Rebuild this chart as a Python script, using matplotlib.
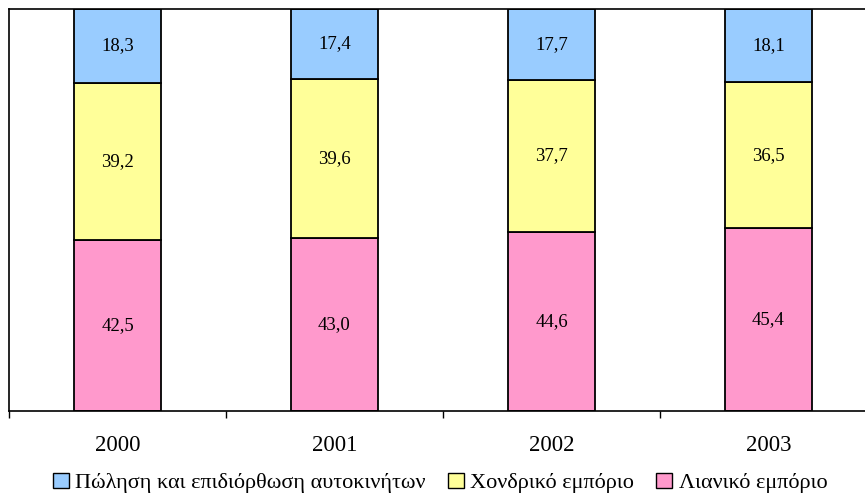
import matplotlib.pyplot as plt
from matplotlib.patches import Patch

# data
years = ["2000", "2001", "2002", "2003"]
retail = [42.5, 43.0, 44.6, 45.4]       # Λιανικό εμπόριο
wholesale = [39.2, 39.6, 37.7, 36.5]    # Χονδρικό εμπόριο
cars = [18.3, 17.4, 17.7, 18.1]         # Πώληση και επιδιόρθωση αυτοκινήτων

labels = ["Πώληση και επιδιόρθωση αυτοκινήτων", "Χονδρικό εμπόριο", "Λιανικό εμπόριο"]
colors = ["#99CCFF", "#FFFF99", "#FF99CC"]

plt.rcParams["font.family"] = ["Liberation Serif", "DejaVu Serif"]

fig = plt.figure(figsize=(8.65, 4.94), dpi=100)
# axes extend past the right edge (chart is cropped in the reference)
ax = fig.add_axes([9 / 865, 1 - 411 / 494, 868 / 865, 402 / 494])

x = list(range(len(years)))
w = 0.40
bottom = [0] * len(years)
for vals, col in zip([retail, wholesale, cars], [colors[2], colors[1], colors[0]]):
    ax.bar(x, vals, w, bottom=bottom, color=col, edgecolor="black", linewidth=1.3)
    for xi, b, v in zip(x, bottom, vals):
        ax.text(xi, b + v / 2, f"{v:.1f}".replace(".", ","), ha="center", va="center", fontsize=13.5)
    bottom = [b + v for b, v in zip(bottom, vals)]

ax.set_xlim(-0.5, 3.5)
ax.set_ylim(0, 100)
ax.set_yticks([])
ax.set_xticks([-0.5, 0.5, 1.5, 2.5, 3.5])
ax.set_xticklabels([])
ax.set_xticks(x, minor=True)
ax.set_xticklabels(years, minor=True, fontsize=16.5)
ax.tick_params(axis="x", which="major", length=5, width=1, direction="out")
ax.tick_params(axis="x", which="minor", length=0, pad=17)
for s in ax.spines.values():
    s.set_linewidth(1.2)

handles = [Patch(facecolor=c, edgecolor="black", linewidth=1) for c in colors]
fig.legend(handles, labels, loc="center", bbox_to_anchor=(0.509, 1 - 483 / 494), ncol=3,
           frameon=False, fontsize=16, handlelength=0.7, handleheight=0.7,
           handletextpad=0.3, columnspacing=1.0, borderpad=0)

fig.savefig("out.png", dpi=100)
